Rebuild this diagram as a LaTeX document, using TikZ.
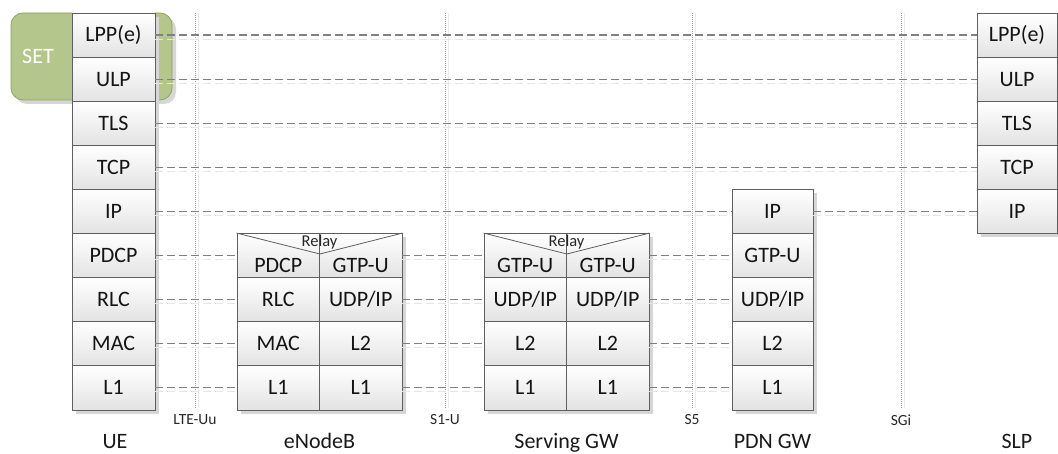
\documentclass[tikz,border=0pt]{standalone}
\usepackage{fontspec}
\setmainfont{Carlito}
\definecolor{setgreen}{HTML}{B4C68B}
\definecolor{setedge}{HTML}{8FA25E}
\definecolor{celledge}{HTML}{5F5F5F}
\definecolor{linkgray}{HTML}{808080}
\definecolor{ifgray}{HTML}{A0A0A0}
\begin{document}
\begin{tikzpicture}[x=1pt,y=-1pt,
  cell/.style={draw=celledge, line width=0.8pt, top color=white, bottom color=black!11,
    minimum height=44.1pt, inner sep=0pt, text=black!92,
    font=\fontsize{22}{24}\selectfont},
  uecell/.style={cell, minimum width=83pt},
  slpcell/.style={cell, minimum width=80pt},
  pgwcell/.style={cell, minimum width=81pt},
  halfcell/.style={cell, minimum width=82.5pt},
  celltext/.style={inner sep=0pt, text=black!92, font=\fontsize{22}{24}\selectfont},
  relaytext/.style={inner sep=0pt, text=black!85, font=\fontsize{16.5}{18}\selectfont},
  shade/.style={fill=black!16},
  link/.style={draw=linkgray, line width=1.1pt, dash pattern=on 8pt off 4pt},
  linkshade/.style={draw=black!10, line width=1pt, dash pattern=on 8pt off 4pt},
  iface/.style={draw=ifgray, line width=0.9pt, dash pattern=on 1pt off 1pt},
  ifaceshade/.style={draw=black!8, line width=0.8pt},
  iflabel/.style={inner sep=0pt, text=black!85, font=\fontsize{15.5}{17}\selectfont},
  entity/.style={inner sep=0pt, anchor=base, text=black!90, font=\fontsize{22}{24}\selectfont}
]
\useasboundingbox (0,0) rectangle (1058,454);

% interface reference lines
\coordinate (lte-top) at (195,13);  \coordinate (lte-bot) at (195,408);
\coordinate (s1u-top) at (445,13);  \coordinate (s1u-bot) at (445,408);
\coordinate (s5-top)  at (692,13);  \coordinate (s5-bot)  at (692,408);
\coordinate (sgi-top) at (901,13);  \coordinate (sgi-bot) at (901,408);
\foreach \l in {lte,s1u,s5,sgi}{
  \draw[ifaceshade] ([xshift=3pt]\l-top) -- ([xshift=3pt]\l-bot);
  \draw[iface] (\l-top) -- (\l-bot);
}

% SET terminal outline
\fill[black!16, rounded corners=12pt] (15,17) rectangle (176,104);
\draw[setedge, fill=setgreen, line width=0.8pt, rounded corners=12pt] (11,13) rectangle (172,100);
\node[text=white, inner sep=0pt, font=\fontsize{22}{24}\selectfont] (set) at (38,56) {SET};

% drop shadows of the stacks
\fill[shade] (76,17) rectangle (159,414);
\fill[shade] (241,237) rectangle (406,414);
\fill[shade] (488,237) rectangle (653,414);
\fill[shade] (736,193) rectangle (817,414);
\fill[shade] (981,17) rectangle (1061,237);

% UE stack
\node[uecell] (ue-lpp)  at (113.5,35.05)  {LPP(e)};
\node[uecell] (ue-ulp)  at (113.5,79.15)  {ULP};
\node[uecell] (ue-tls)  at (113.5,123.25) {TLS};
\node[uecell] (ue-tcp)  at (113.5,167.35) {TCP};
\node[uecell] (ue-ip)   at (113.5,211.45) {IP};
\node[uecell] (ue-pdcp) at (113.5,255.55) {PDCP};
\node[uecell] (ue-rlc)  at (113.5,299.65) {RLC};
\node[uecell] (ue-mac)  at (113.5,343.75) {MAC};
\node[uecell] (ue-l1)   at (113.5,387.85) {L1};

% eNodeB relay stack
\node[halfcell] (enb-pdcp) at (278.25,255.55) {};
\node[halfcell] (enb-gtp)  at (360.75,255.55) {};
\node[halfcell] (enb-rlc)  at (278.25,299.65) {RLC};
\node[halfcell] (enb-udp)  at (360.75,299.65) {UDP/IP};
\node[halfcell] (enb-mac)  at (278.25,343.75) {MAC};
\node[halfcell] (enb-l2)   at (360.75,343.75) {L2};
\node[halfcell] (enb-l1a)  at (278.25,387.85) {L1};
\node[halfcell] (enb-l1b)  at (360.75,387.85) {L1};
\draw[celledge, line width=0.8pt] (enb-pdcp.north west) -- (enb-pdcp.south east |- 0,254) -- (enb-gtp.north east);
\node[relaytext] (enb-relay) at (319.5,242.5) {Relay};
\node[celltext] (enb-pdcp-t) at (278.25,265.5) {PDCP};
\node[celltext] (enb-gtp-t)  at (360.75,265.5) {GTP-U};

% Serving GW relay stack
\node[halfcell] (sgw-gtpa) at (525.25,255.55) {};
\node[halfcell] (sgw-gtpb) at (607.75,255.55) {};
\node[halfcell] (sgw-udpa) at (525.25,299.65) {UDP/IP};
\node[halfcell] (sgw-udpb) at (607.75,299.65) {UDP/IP};
\node[halfcell] (sgw-l2a)  at (525.25,343.75) {L2};
\node[halfcell] (sgw-l2b)  at (607.75,343.75) {L2};
\node[halfcell] (sgw-l1a)  at (525.25,387.85) {L1};
\node[halfcell] (sgw-l1b)  at (607.75,387.85) {L1};
\draw[celledge, line width=0.8pt] (sgw-gtpa.north west) -- (sgw-gtpa.south east |- 0,254) -- (sgw-gtpb.north east);
\node[relaytext] (sgw-relay) at (566.5,242.5) {Relay};
\node[celltext] (sgw-gtpa-t) at (525.25,265.5) {GTP-U};
\node[celltext] (sgw-gtpb-t) at (607.75,265.5) {GTP-U};

% PDN GW stack
\node[pgwcell] (pgw-ip)  at (772.5,211.45) {IP};
\node[pgwcell] (pgw-gtp) at (772.5,255.55) {GTP-U};
\node[pgwcell] (pgw-udp) at (772.5,299.65) {UDP/IP};
\node[pgwcell] (pgw-l2)  at (772.5,343.75) {L2};
\node[pgwcell] (pgw-l1)  at (772.5,387.85) {L1};

% SLP stack
\node[slpcell] (slp-lpp) at (1017,35.05)  {LPP(e)};
\node[slpcell] (slp-ulp) at (1017,79.15)  {ULP};
\node[slpcell] (slp-tls) at (1017,123.25) {TLS};
\node[slpcell] (slp-tcp) at (1017,167.35) {TCP};
\node[slpcell] (slp-ip)  at (1017,211.45) {IP};

% peer-to-peer links between layers
\foreach \a/\b in {ue-lpp/slp-lpp, ue-ulp/slp-ulp, ue-tls/slp-tls, ue-tcp/slp-tcp,
                   ue-ip/pgw-ip, pgw-ip/slp-ip,
                   ue-pdcp/enb-pdcp, ue-rlc/enb-rlc, ue-mac/enb-mac, ue-l1/enb-l1a,
                   enb-gtp/sgw-gtpa, enb-udp/sgw-udpa, enb-l2/sgw-l2a, enb-l1b/sgw-l1a,
                   sgw-gtpb/pgw-gtp, sgw-udpb/pgw-udp, sgw-l2b/pgw-l2, sgw-l1b/pgw-l1}{
  \draw[linkshade] ([yshift=-4pt]\a.east) -- ([yshift=-4pt]\b.west);
  \draw[link] (\a.east) -- (\b.west);
}

% interface names
\node[iflabel] (lbl-lte) at (195,420) {LTE-Uu};
\node[iflabel] (lbl-s1u) at (445,420) {S1-U};
\node[iflabel] (lbl-s5)  at (692,420) {S5};
\node[iflabel] (lbl-sgi) at (901,420) {SGi};

% network element names
\node[entity] (lbl-ue)  at (115,448.5)   {UE};
\node[entity] (lbl-enb) at (319.5,448.5) {eNodeB};
\node[entity] (lbl-sgw) at (566.5,448.5) {Serving GW};
\node[entity] (lbl-pgw) at (772.5,448.5) {PDN GW};
\node[entity] (lbl-slp) at (1017,448.5)  {SLP};
\end{tikzpicture}
\end{document}
